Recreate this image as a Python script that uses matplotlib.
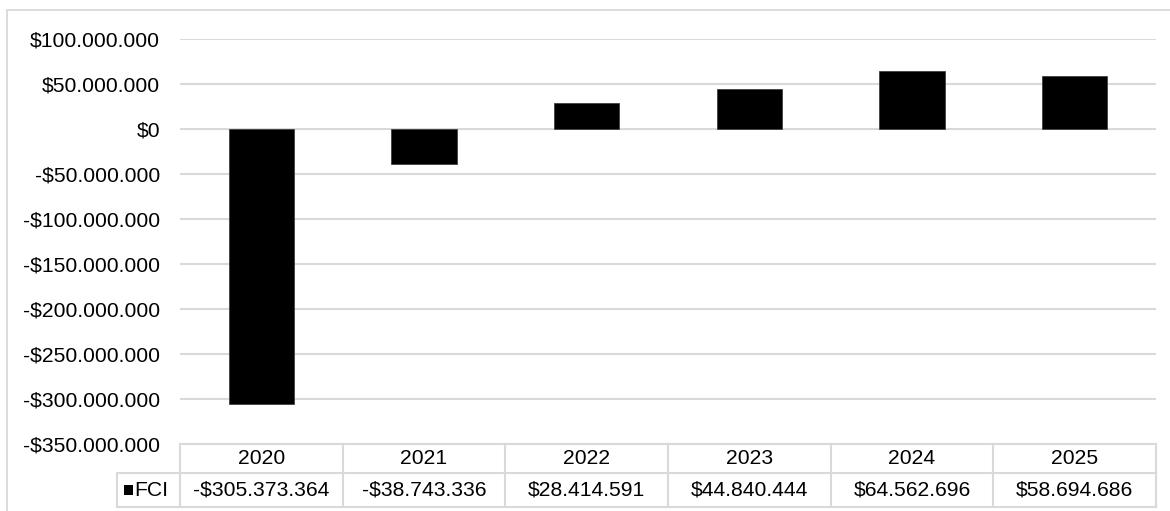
import matplotlib
matplotlib.use("Agg")
import matplotlib.pyplot as plt
from matplotlib.patches import Rectangle
from matplotlib.lines import Line2D
from matplotlib.transforms import blended_transform_factory

# Data
years = ["2020", "2021", "2022", "2023", "2024", "2025"]
fci = [-305373364, -38743336, 28414591, 44840444, 64562696, 58694686]
series_name = "FCI"
y_ticks = [100e6, 50e6, 0, -50e6, -100e6, -150e6, -200e6, -250e6, -300e6, -350e6]


def money(v):
    s = f"{abs(int(round(v))):,}".replace(",", ".")
    return ("-$" if v < 0 else "$") + s


W, H = 1170, 511
DPI = 100
plt.rcParams["font.family"] = ["Liberation Sans", "DejaVu Sans"]
FS = 15.2
GRID = "#d9d9d9"

fig = plt.figure(figsize=(W / DPI, H / DPI), dpi=DPI)
fig.patch.set_facecolor("white")

# Outer chart frame (extends beyond the canvas on right and bottom)
fig.add_artist(Rectangle((7 / W, -0.2), 1.2, (H - 10) / H + 0.2,
                         transform=fig.transFigure, fill=False,
                         edgecolor=GRID, linewidth=1.3))

# Plot area in pixel coordinates
left, right, top, bottom = 180, 1156, 39, 444
ax = fig.add_axes([left / W, (H - bottom) / H, (right - left) / W, (bottom - top) / H])
ax.set_xlim(-0.5, len(years) - 0.5)
ax.set_ylim(-350e6, 100e6)
ax.set_facecolor("none")
for s in ax.spines.values():
    s.set_visible(False)

ax.set_yticks(y_ticks)
ax.set_yticklabels([money(v) for v in y_ticks], fontsize=FS)
ax.tick_params(axis="y", length=0, pad=14.4)
ax.set_xticks([])
for v in y_ticks[:-1]:
    ax.axhline(v, color=GRID, linewidth=1.5, zorder=0)

ax.bar(range(len(years)), fci, width=0.4, color="black", edgecolor="#404040",
       linewidth=0.6, zorder=2)

# Data table beneath the plot
tr = blended_transform_factory(ax.transData, fig.transFigure)
ph = lambda y: (H - y) / H  # pixel row -> figure fraction
row_top, row_mid, row_bot = 444, 473, 507
legend_left = 117

# horizontal lines
fig.add_artist(Line2D([-0.5, len(years) - 0.5], [ph(row_top)] * 2, transform=tr,
                      color=GRID, linewidth=1.5, clip_on=False))
for y in (row_mid, row_bot):
    fig.add_artist(Line2D([legend_left / W, right / W], [ph(y)] * 2,
                          transform=fig.transFigure, color=GRID, linewidth=1.5))
# vertical lines
for i in range(len(years) + 1):
    fig.add_artist(Line2D([i - 0.5, i - 0.5], [ph(row_top), ph(row_bot)], transform=tr,
                          color=GRID, linewidth=1.5))
fig.add_artist(Line2D([legend_left / W] * 2, [ph(row_mid), ph(row_bot)],
                      transform=fig.transFigure, color=GRID, linewidth=1.5))

for i, (yr, v) in enumerate(zip(years, fci)):
    fig.text(i, ph((row_top + row_mid) / 2), yr, transform=tr, ha="center",
             va="center", fontsize=FS)
    fig.text(i, ph((row_mid + row_bot) / 2), money(v), transform=tr, ha="center",
             va="center", fontsize=FS)

# legend key in the table
fig.add_artist(Rectangle((124 / W, ph(495)), 9 / W, 10 / H, transform=fig.transFigure,
                         facecolor="black", edgecolor="none"))
fig.text(134 / W, ph((row_mid + row_bot) / 2), series_name, ha="left", va="center",
         fontsize=FS)

fig.savefig("out.png", dpi=DPI, facecolor="white")
